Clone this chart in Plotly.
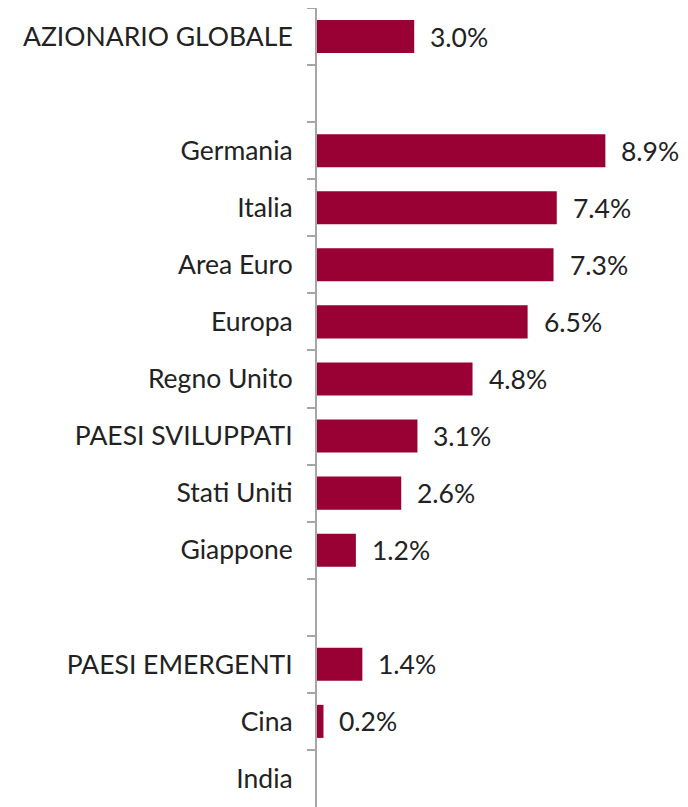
import plotly.graph_objects as go

categories = ["AZIONARIO GLOBALE", " ", "Germania", "Italia", "Area Euro", "Europa",
              "Regno Unito", "PAESI SVILUPPATI", "Sta\u200cti Uni\u200cti", "Giappone", "  ",
              "PAESI EMERGENTI", "Cina", "India"]
values = [3.0, None, 8.9, 7.4, 7.3, 6.5, 4.8, 3.1, 2.6, 1.2, None, 1.4, 0.2, None]
labels = [f"{v:.1f}%" if v is not None else "" for v in values]

BAR = "#990033"
FONT = "Lato, 'Open Sans', sans-serif"
FS = 26.5

fig = go.Figure(go.Bar(
    y=categories, x=values, orientation="h",
    marker=dict(color=BAR, line=dict(width=0)),
    width=0.58,
))

for c, v, t in zip(categories, values, labels):
    if v is None:
        continue
    fig.add_annotation(x=v, y=c, text=t, showarrow=False, xanchor="left",
                       xshift=14, font=dict(family=FONT, size=FS, color="#222222"))

fig.update_layout(
    width=680, height=799,
    margin=dict(l=309, r=0, t=0, b=0),
    paper_bgcolor="white", plot_bgcolor="white",
    showlegend=False,
    font=dict(family=FONT, size=FS, color="#222222"),
    xaxis=dict(range=[0, 11.45], visible=False, fixedrange=True),
    yaxis=dict(categoryorder="array", categoryarray=categories, autorange="reversed",
               showline=True, linecolor="#a6a6a6", linewidth=2,
               ticks="outside", tickson="boundaries", ticklen=8, tickcolor="#a6a6a6",
               tickwidth=2, showgrid=False, ticklabelstandoff=17, automargin=False,
               tickfont=dict(family=FONT, size=FS, color="#222222")),
)

fig.write_html("out.html")
